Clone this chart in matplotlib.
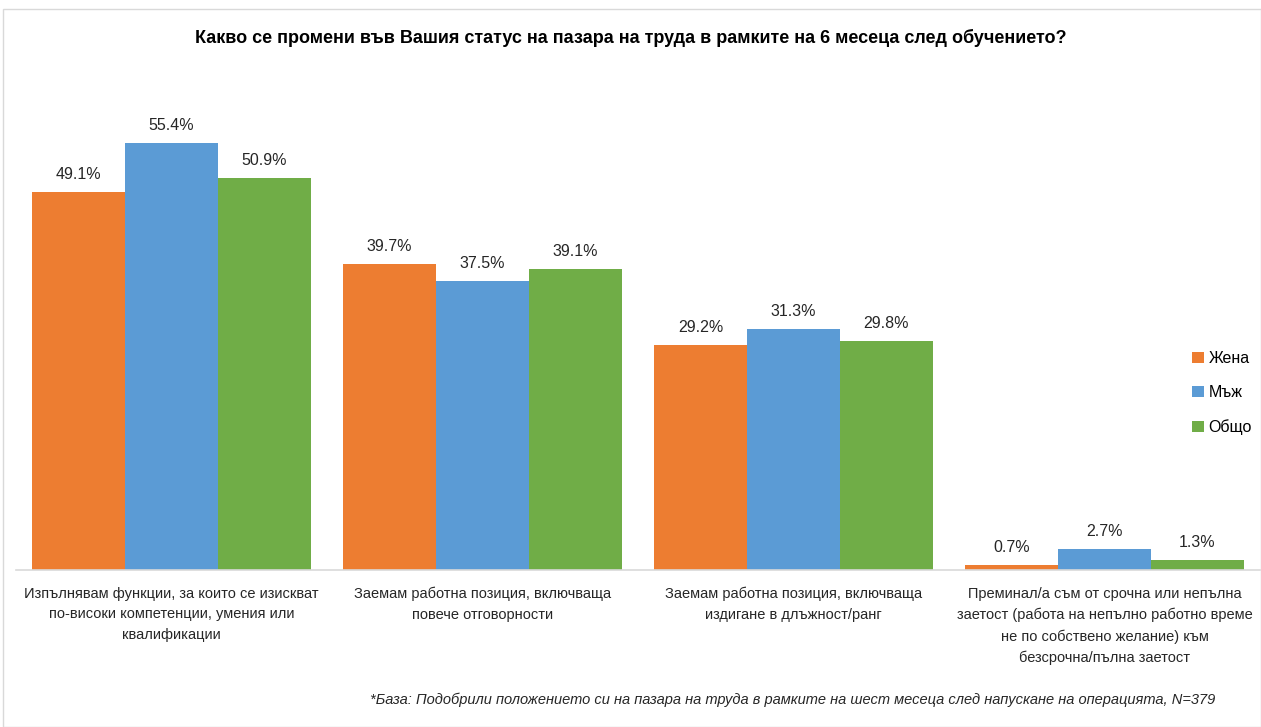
import matplotlib.pyplot as plt
import numpy as np
from matplotlib.patches import Rectangle

categories = [
    "Изпълнявам функции, за които се изискват\nпо-високи компетенции, умения или\nквалификации",
    "Заемам работна позиция, включваща\nповече отговорности",
    "Заемам работна позиция, включваща\nиздигане в длъжност/ранг",
    "Преминал/а съм от срочна или непълна\nзаетост (работа на непълно работно време\nне по собствено желание) към\nбезсрочна/пълна заетост",
]
series_names = ["Жена", "Мъж", "Общо"]
zhena = [49.1, 39.7, 29.2, 0.7]
mazh = [55.4, 37.5, 31.3, 2.7]
obshto = [50.9, 39.1, 29.8, 1.3]
colors = ["#ED7D31", "#5B9BD5", "#70AD47"]

title = "Какво се промени във Вашия статус на пазара на труда в рамките на 6 месеца след обучението?"
footnote = "*База: Подобрили положението си на пазара на труда в рамките на шест месеца след напускане на операцията, N=379"

plt.rcParams['font.family'] = ['Liberation Sans Narrow', 'Liberation Sans', 'DejaVu Sans']

W, H = 1261, 727
fig = plt.figure(figsize=(W / 100, H / 100), dpi=100)
fig.patches.append(Rectangle((3 / W, 0), 1 - 3 / W, 1 - 9 / H, transform=fig.transFigure,
                             fill=False, edgecolor="#D9D9D9", linewidth=1))

ax = fig.add_axes([16 / W, (H - 570) / H, (1260 - 16) / W, (570 - 108) / H])
x = np.arange(len(categories))
w = 93 / 311
for i, (vals, name) in enumerate(zip([zhena, mazh, obshto], series_names)):
    bars = ax.bar(x + (i - 1) * w, vals, w, color=colors[i], label=name)
    for b, v in zip(bars, vals):
        ax.text(b.get_x() + b.get_width() / 2, v + 1.3, f"{v:.1f}%", ha="center",
                va="bottom", fontsize=11.5, color="#262626")

ax.set_xlim(-0.5, 3.5)
ax.set_ylim(0, 60)
for s in ["top", "right", "left"]:
    ax.spines[s].set_visible(False)
ax.spines["bottom"].set_color("#D9D9D9")
ax.spines["bottom"].set_linewidth(1.2)
ax.set_yticks([])
ax.set_xticks(x)
ax.set_xticklabels(categories, fontsize=10.5, color="#262626", linespacing=1.62)
ax.tick_params(axis="x", length=0, pad=12)

fig.text(0.5, 1 - 38 / H, title, ha="center", va="center", fontsize=13, fontweight="bold")
fig.text(1215 / W, 1 - 700 / H, footnote, ha="right", va="center", fontsize=10.5,
         style="italic", color="#262626")

leg = fig.legend(loc="center left", bbox_to_anchor=(1178 / W, 1 - 393 / H), frameon=False,
                 fontsize=11.5, handlelength=0.7, handleheight=0.7, handletextpad=0.3,
                 labelspacing=1.2)

fig.savefig("out.png", dpi=100)
